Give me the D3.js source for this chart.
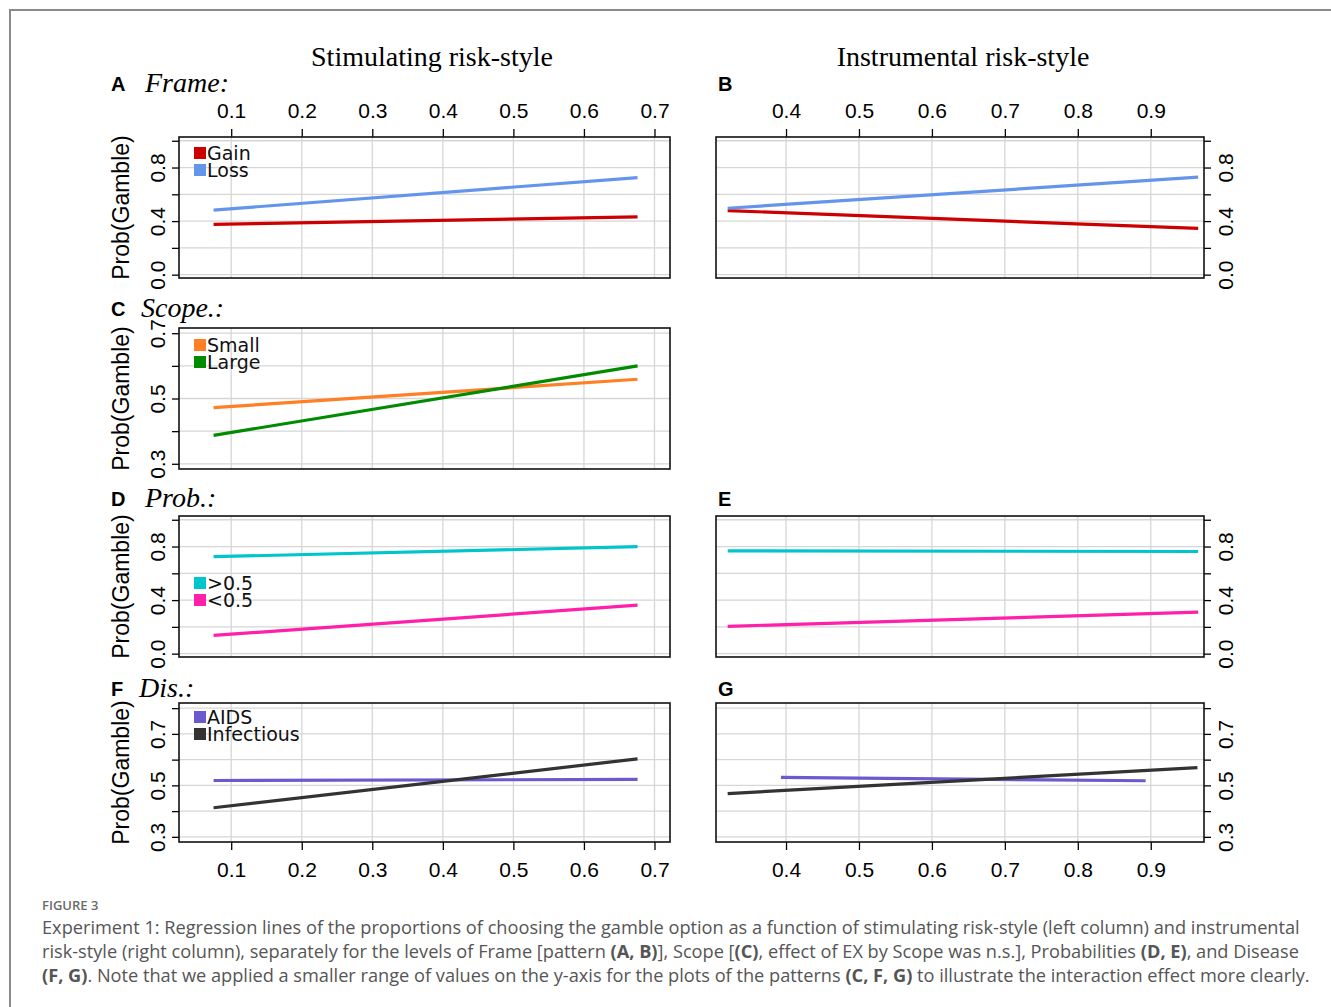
<!DOCTYPE html>
<html>
<head>
<meta charset="utf-8">
<script src="https://cdn.jsdelivr.net/npm/d3@7"></script>
<style>
  body { margin: 0; background: #fff; }
  svg { display: block; }
</style>
</head>
<body>
<div id="chart"></div>
<script>
// regression line end points, [x, prob] pairs
const frameGainStim = [[0.075, 0.375], [0.676, 0.432]];
const frameLossStim = [[0.075, 0.482], [0.676, 0.725]];
const frameGainInstr = [[0.320, 0.478], [0.965, 0.345]];
const frameLossInstr = [[0.320, 0.496], [0.965, 0.728]];

const scopeSmallStim = [[0.075, 0.472], [0.676, 0.559]];
const scopeLargeStim = [[0.075, 0.387], [0.676, 0.600]];

const probHighStim = [[0.075, 0.724], [0.676, 0.799]];
const probLowStim = [[0.075, 0.136], [0.676, 0.362]];
const probHighInstr = [[0.320, 0.768], [0.965, 0.763]];
const probLowInstr = [[0.320, 0.204], [0.965, 0.310]];

const disAidsStim = [[0.075, 0.519], [0.676, 0.523]];
const disInfStim = [[0.075, 0.413], [0.676, 0.603]];
const disAidsInstr = [[0.393, 0.531], [0.893, 0.518]];
const disInfInstr = [[0.320, 0.468], [0.964, 0.569]];

// tick values and labels
const stimTicks = [0.1, 0.2, 0.3, 0.4, 0.5, 0.6, 0.7];
const instrTicks = [0.4, 0.5, 0.6, 0.7, 0.8, 0.9];
const probTicks = [0, 0.2, 0.4, 0.6, 0.8, 1.0];
const probLabels = [0, 0.4, 0.8];
const scopeTicks = [0.3, 0.4, 0.5, 0.6, 0.7];
const disTicks = [0.3, 0.4, 0.5, 0.6, 0.7, 0.8];
const narrowLabels = [0.3, 0.5, 0.7];

const colors = {
  gain: "#cc0000", loss: "#6495ed",
  small: "#ff7f24", large: "#008b00",
  high: "#00c5cd", low: "#ff1fa8",
  aids: "#6a5acd", inf: "#333333"
};

const W = 1331, H = 1007;
const svg = d3.select("#chart").append("svg")
  .attr("width", W).attr("height", H);

// outer frame (only top and left edges are visible)
svg.append("path")
  .attr("d", `M10,${H} L10,10 L${W},10`)
  .attr("fill", "none").attr("stroke", "#8a8a8a").attr("stroke-width", 2);

const cols = { left: [179, 670], right: [716, 1204] };
const rows = { A: [137, 278], C: [328, 469], D: [516, 657], F: [703, 842] };

const stimDomain = [0.026, 0.722];
const instrDomain = [0.304, 0.973];
const probDomain = [-0.025, 1.028];
const scopeDomain = [0.284, 0.716];
const disDomain = [0.28, 0.82];

const fmt = d3.format(".1f");
const tickFont = "'Liberation Sans', Arial, sans-serif";

function panel(opt) {
  const [x0, x1] = cols[opt.col];
  const [y0, y1] = rows[opt.row];
  const x = d3.scaleLinear().domain(opt.xDomain).range([x0, x1]);
  const y = d3.scaleLinear().domain(opt.yDomain).range([y1, y0]);
  const g = svg.append("g");

  // grid
  g.append("g").selectAll("line").data(opt.xTicks).join("line")
    .attr("x1", d => x(d)).attr("x2", d => x(d))
    .attr("y1", y0).attr("y2", y1)
    .attr("stroke", "#d6d6d6").attr("stroke-width", 1.3);
  g.append("g").selectAll("line").data(opt.yTicks).join("line")
    .attr("x1", x0).attr("x2", x1)
    .attr("y1", d => y(d)).attr("y2", d => y(d))
    .attr("stroke", "#d6d6d6").attr("stroke-width", 1.3);

  // y axis, rotated labels as in base R
  const yAxis = (opt.col === "left" ? d3.axisLeft(y) : d3.axisRight(y))
    .tickValues(opt.yTicks).tickSize(7).tickSizeOuter(0)
    .tickFormat(d => opt.yLabels.some(v => Math.abs(v - d) < 1e-9) ? fmt(d) : "");
  const ya = g.append("g")
    .attr("transform", `translate(${opt.col === "left" ? x0 : x1},0)`)
    .call(yAxis);
  ya.select(".domain").remove();
  ya.selectAll("line").attr("stroke", "#000").attr("stroke-width", 1.3);
  ya.selectAll("text")
    .attr("transform", "rotate(-90)")
    .attr("x", 0).attr("dy", null)
    .attr("y", opt.col === "left" ? -14 : 29)
    .attr("text-anchor", "middle")
    .attr("font-family", tickFont).attr("font-size", 21).attr("fill", "#000");

  // x axis on top or bottom
  if (opt.xAxis) {
    const top = opt.xAxis === "top";
    const xAxis = (top ? d3.axisTop(x) : d3.axisBottom(x))
      .tickValues(opt.xTicks).tickSize(8).tickSizeOuter(0).tickFormat(fmt);
    const xa = g.append("g")
      .attr("transform", `translate(0,${top ? y0 : y1})`)
      .call(xAxis);
    xa.select(".domain").remove();
    xa.selectAll("line").attr("stroke", "#000").attr("stroke-width", 1.3);
    xa.selectAll("text")
      .attr("dy", null)
      .attr("y", top ? -19 : 35)
      .attr("font-family", tickFont).attr("font-size", 21).attr("fill", "#000");
  }

  // regression lines
  const line = d3.line().x(d => x(d[0])).y(d => y(d[1]));
  opt.series.forEach(s => {
    g.append("path").datum(s.data)
      .attr("d", line)
      .attr("fill", "none")
      .attr("stroke", s.color).attr("stroke-width", 3.2);
  });

  // box
  g.append("rect")
    .attr("x", x0).attr("y", y0)
    .attr("width", x1 - x0).attr("height", y1 - y0)
    .attr("fill", "none").attr("stroke", "#111").attr("stroke-width", 1.6);

  // legend
  if (opt.legend) {
    opt.legend.items.forEach((it, i) => {
      const ly = opt.legend.y + i * 17;
      g.append("rect")
        .attr("x", x0 + 15).attr("y", ly)
        .attr("width", 12).attr("height", 12)
        .attr("fill", it.color);
      g.append("text")
        .attr("x", x0 + 28).attr("y", ly + 13)
        .attr("font-family", "'DejaVu Sans', sans-serif").attr("font-size", 19)
        .attr("fill", "#111")
        .text(it.label);
    });
  }

  // y title
  if (opt.col === "left") {
    g.append("text")
      .attr("transform", `translate(129,${(y0 + y1) / 2}) rotate(-90)`)
      .attr("text-anchor", "middle")
      .attr("font-family", tickFont).attr("font-size", 23).attr("fill", "#000")
      .text("Prob(Gamble)");
  }

  // panel letter and factor name
  const lx = opt.col === "left" ? 111 : 718;
  g.append("text")
    .attr("x", lx).attr("y", opt.letterY)
    .attr("font-family", tickFont).attr("font-weight", "bold")
    .attr("font-size", 20).attr("fill", "#000")
    .text(opt.letter);
  if (opt.factor) {
    g.append("text")
      .attr("x", opt.factorX).attr("y", opt.letterY + 1)
      .attr("font-family", "'Liberation Serif', 'Times New Roman', serif")
      .attr("font-style", "italic").attr("font-size", 28).attr("fill", "#000")
      .text(opt.factor);
  }
}

// column titles
[["Stimulating risk-style", 432], ["Instrumental risk-style", 963]].forEach(([t, cx]) => {
  svg.append("text")
    .attr("x", cx).attr("y", 66)
    .attr("text-anchor", "middle")
    .attr("font-family", "'Liberation Serif', 'Times New Roman', serif")
    .attr("font-size", 28).attr("fill", "#000")
    .text(t);
});

panel({
  col: "left", row: "A", letter: "A", letterY: 91, factor: "Frame:", factorX: 145,
  xDomain: stimDomain, yDomain: probDomain, xTicks: stimTicks,
  yTicks: probTicks, yLabels: probLabels, xAxis: "top",
  series: [{ data: frameGainStim, color: colors.gain }, { data: frameLossStim, color: colors.loss }],
  legend: { y: 147, items: [{ label: "Gain", color: colors.gain }, { label: "Loss", color: colors.loss }] }
});
panel({
  col: "right", row: "A", letter: "B", letterY: 91,
  xDomain: instrDomain, yDomain: probDomain, xTicks: instrTicks,
  yTicks: probTicks, yLabels: probLabels, xAxis: "top",
  series: [{ data: frameGainInstr, color: colors.gain }, { data: frameLossInstr, color: colors.loss }]
});
panel({
  col: "left", row: "C", letter: "C", letterY: 316, factor: "Scope.:", factorX: 141,
  xDomain: stimDomain, yDomain: scopeDomain, xTicks: stimTicks,
  yTicks: scopeTicks, yLabels: narrowLabels,
  series: [{ data: scopeSmallStim, color: colors.small }, { data: scopeLargeStim, color: colors.large }],
  legend: { y: 339, items: [{ label: "Small", color: colors.small }, { label: "Large", color: colors.large }] }
});
panel({
  col: "left", row: "D", letter: "D", letterY: 506, factor: "Prob.:", factorX: 145,
  xDomain: stimDomain, yDomain: probDomain, xTicks: stimTicks,
  yTicks: probTicks, yLabels: probLabels,
  series: [{ data: probHighStim, color: colors.high }, { data: probLowStim, color: colors.low }],
  legend: { y: 577, items: [{ label: ">0.5", color: colors.high }, { label: "<0.5", color: colors.low }] }
});
panel({
  col: "right", row: "D", letter: "E", letterY: 506,
  xDomain: instrDomain, yDomain: probDomain, xTicks: instrTicks,
  yTicks: probTicks, yLabels: probLabels,
  series: [{ data: probHighInstr, color: colors.high }, { data: probLowInstr, color: colors.low }]
});
panel({
  col: "left", row: "F", letter: "F", letterY: 696, factor: "Dis.:", factorX: 139,
  xDomain: stimDomain, yDomain: disDomain, xTicks: stimTicks,
  yTicks: disTicks, yLabels: narrowLabels, xAxis: "bottom",
  series: [{ data: disAidsStim, color: colors.aids }, { data: disInfStim, color: colors.inf }],
  legend: { y: 711, items: [{ label: "AIDS", color: colors.aids }, { label: "Infectious", color: colors.inf }] }
});
panel({
  col: "right", row: "F", letter: "G", letterY: 696,
  xDomain: instrDomain, yDomain: disDomain, xTicks: instrTicks,
  yTicks: disTicks, yLabels: narrowLabels, xAxis: "bottom",
  series: [{ data: disAidsInstr, color: colors.aids }, { data: disInfInstr, color: colors.inf }]
});

// caption
const capFont = "'Open Sans', 'Noto Sans', sans-serif";
svg.append("text")
  .attr("x", 42).attr("y", 910)
  .attr("font-family", capFont).attr("font-size", 13).attr("font-weight", 600)
  .attr("fill", "#6b6b6b")
  .text("FIGURE 3");

const captionLines = [
  [["Experiment 1: Regression lines of the proportions of choosing the gamble option as a function of stimulating risk-style (left column) and instrumental", false]],
  [["risk-style (right column), separately for the levels of Frame [pattern ", false], ["(A, B)", true], ["], Scope [", false], ["(C)", true],
   [", effect of EX by Scope was n.s.], Probabilities ", false], ["(D, E)", true], [", and Disease", false]],
  [["(F, G)", true], [". Note that we applied a smaller range of values on the y-axis for the plots of the patterns ", false], ["(C, F, G)", true],
   [" to illustrate the interaction effect more clearly.", false]]
];
captionLines.forEach((parts, i) => {
  const t = svg.append("text")
    .attr("x", 42).attr("y", 934 + i * 24)
    .attr("font-family", capFont).attr("font-size", 18.2)
    .attr("fill", "#555");
  parts.forEach(([s, b]) => {
    t.append("tspan").attr("font-weight", b ? 700 : 400).text(s);
  });
});
</script>
</body>
</html>
